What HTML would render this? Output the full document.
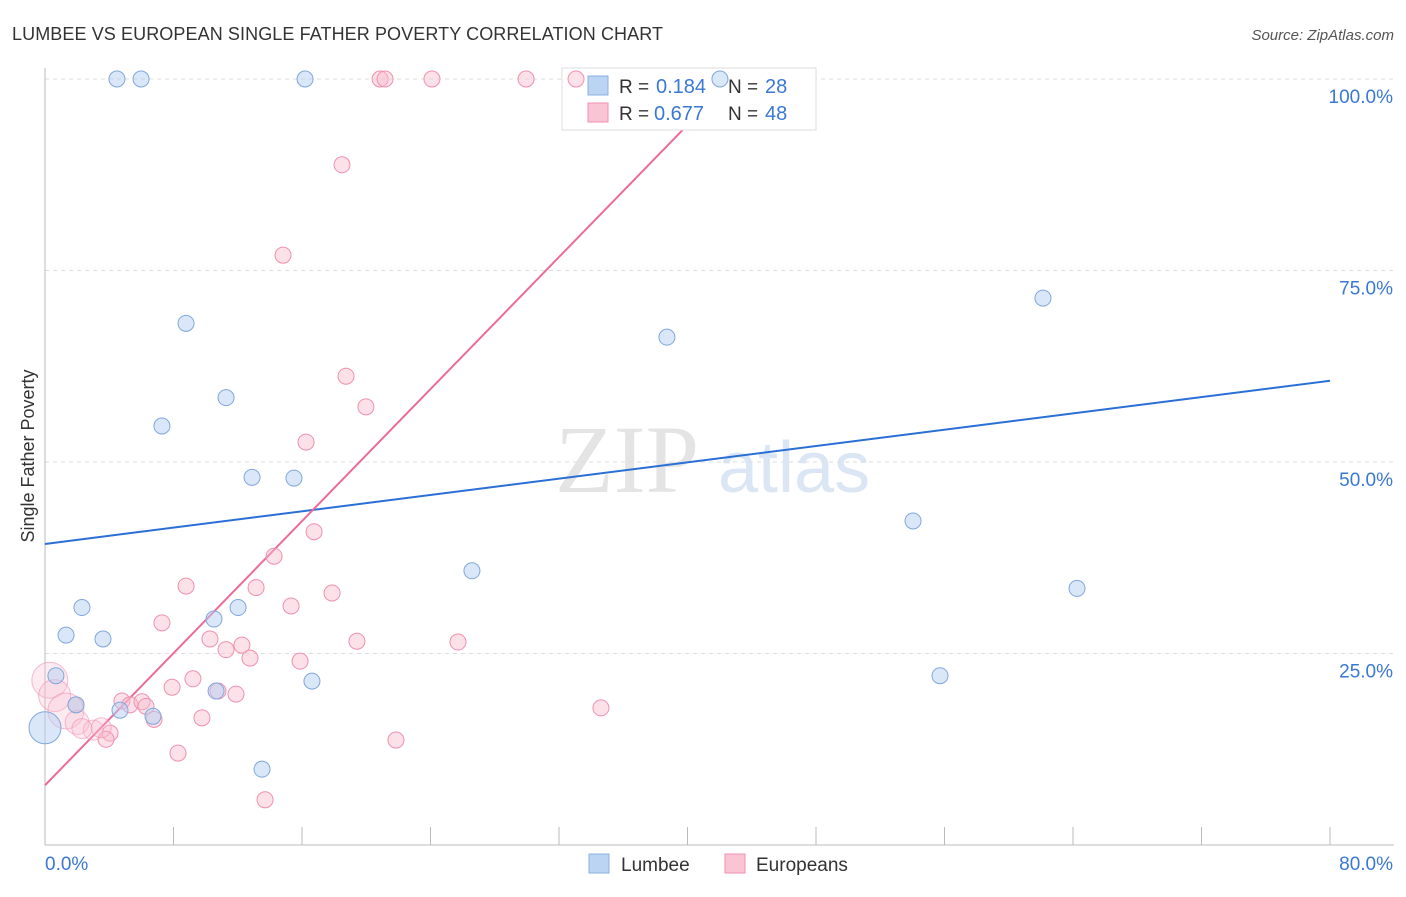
<!DOCTYPE html>
<html><head><meta charset="utf-8"><style>
body{margin:0;background:#fff;font-family:"Liberation Sans",sans-serif;}
</style></head><body>
<svg width="1406" height="892" xmlns="http://www.w3.org/2000/svg" id="chart" font-family="Liberation Sans, sans-serif">
<text x="12" y="40" font-size="18" fill="#333" textLength="651">LUMBEE VS EUROPEAN SINGLE FATHER POVERTY CORRELATION CHART</text>
<text x="1394" y="40" font-size="15" fill="#555" font-style="italic" text-anchor="end">Source: ZipAtlas.com</text>
<g>
<text x="555" y="492" font-size="96" fill="#e4e4e4" font-family="Liberation Serif, serif">ZIP</text>
<text x="718" y="492" font-size="72" fill="#dbe6f5">atlas</text>
</g>
<g id="grid"></g>
<g id="axes"></g>
<text x="34" y="456" font-size="18" fill="#333" transform="rotate(-90 34 456)" text-anchor="middle">Single Father Poverty</text>
<g id="lines"></g>
<g>
<rect x="562" y="68" width="254" height="62" fill="#fff" stroke="#ddd"/>
<rect x="588" y="76" width="20" height="19" fill="#bcd4f4" stroke="#8ab0e0"/>
<rect x="588" y="103" width="20" height="19" fill="#f9c4d4" stroke="#f090b0"/>
<text x="619" y="93" font-size="19" fill="#333">R =</text>
<text x="656" y="93" font-size="20" fill="#3a78d4">0.184</text>
<text x="728" y="93" font-size="19" fill="#333">N =</text>
<text x="765" y="93" font-size="20" fill="#3a78d4">28</text>
<text x="619" y="120" font-size="19" fill="#333">R =</text>
<text x="654" y="120" font-size="20" fill="#3a78d4">0.677</text>
<text x="728" y="120" font-size="19" fill="#333">N =</text>
<text x="765" y="120" font-size="20" fill="#3a78d4">48</text>
</g>
<g id="pts"></g>
<g>
<rect x="589" y="854" width="20" height="19" fill="#bcd4f4" stroke="#8ab0e0"/>
<text x="621" y="871" font-size="19" fill="#333">Lumbee</text>
<rect x="725" y="854" width="20" height="19" fill="#f9c4d4" stroke="#f090b0"/>
<text x="756" y="871" font-size="19" fill="#333">Europeans</text>
</g>
</svg>
<script>
const yTicks=[25,50,75,100];
const yTickLabels=["25.0%","50.0%","75.0%","100.0%"];
const xTickCount=[0,8,16,24,32,40,48,56,64,72,80];
const xEndLabels=["0.0%","80.0%"];
const lumbeeX=[4.48,5.98,16.19,42.02,8.78,11.27,7.28,12.89,15.5,38.72,62.13,54.04,26.58,64.25,2.3,12.02,10.52,1.31,3.61,0.68,16.62,55.72,10.65,1.93,4.67,6.72,13.51,0];
const lumbeeY=[100,100,100,100,68.1,58.4,54.7,48.0,47.9,66.3,71.4,42.3,35.8,33.5,31.0,31.0,29.5,27.4,26.9,22.1,21.4,22.1,20.1,18.3,17.6,16.8,9.9,15.3];
const lumbeeR=[8,8,8,8,8,8,8,8,8,8,8,8,8,8,8,8,8,8,8,8,8,8,8,8,8,8,8,16];
const euroX=[20.86,21.17,24.09,29.95,33.06,18.49,14.82,18.74,19.98,16.25,16.75,14.26,8.78,13.14,17.87,15.32,7.28,10.27,25.71,19.42,12.26,11.27,12.76,15.88,9.21,7.91,10.77,11.89,4.79,5.29,6.04,6.29,1.93,6.79,9.77,4.05,3.8,21.85,34.61,8.28,13.7,0.3,0.6,1.3,2.0,3.0,3.5,2.3];
const euroY=[100,100,100,100,100,88.8,77.0,61.2,57.2,52.6,40.9,37.7,33.8,33.6,32.9,31.2,29.0,26.9,26.5,26.6,26.1,25.5,24.4,24.0,21.7,20.6,20.1,19.7,18.8,18.3,18.7,18.1,18.3,16.4,16.6,14.6,13.8,13.7,17.9,12.0,5.9,21.5,19.5,17.5,16.0,15.0,15.3,15.2];
const euroR=[8,8,8,8,8,8,8,8,8,8,8,8,8,8,8,8,8,8,8,8,8,8,8,8,8,8,8,8,8,8,8,8,8,8,8,8,8,8,8,8,8,18,16,18,12,10,10,10];
const lumbeeTrend=[39.3,60.6];
const euroTrend=[7.8,94.0];
const X=v=>45+v*(1285/80), Y=v=>845-v*7.66;
const NS="http://www.w3.org/2000/svg";
function mk(tag,attrs,parent){const e=document.createElementNS(NS,tag);for(const k in attrs)e.setAttribute(k,attrs[k]);document.getElementById(parent).appendChild(e);return e;}
yTicks.forEach((t,i)=>{
 const g=mk('line',{x1:45,x2:1394,y1:Y(t),y2:Y(t),stroke:'#ddd','stroke-dasharray':'4,4'},'grid');
 
 
 const l=mk('text',{x:1393,y:Y(t)+24,'font-size':19,fill:'#3a78d4','text-anchor':'end'},'axes');
 l.textContent=yTickLabels[i];
 
 
});
const ax=mk('line',{x1:45,x2:45,y1:68,y2:845,stroke:'#bbb'},'axes');


const bx=mk('line',{x1:45,x2:1394,y1:845,y2:845,stroke:'#bbb'},'axes');


xTickCount.forEach(t=>{
 const tk=mk('line',{x1:X(t),x2:X(t),y1:827,y2:845,stroke:'#bbb'},'axes');
 
 
});
const xl0=mk('text',{x:45,y:870,'font-size':19,fill:'#3a78d4'},'axes');xl0.textContent=xEndLabels[0];


const xl1=mk('text',{x:1393,y:870,'font-size':19,fill:'#3a78d4','text-anchor':'end'},'axes');xl1.textContent=xEndLabels[1];


euroX.forEach((v,i)=>{
 const c=mk('circle',{cx:X(v),cy:Y(euroY[i]),r:euroR[i],fill:'#f9bccf','fill-opacity':euroR[i]>8?0.3:0.45,stroke:'#f090b0','stroke-width':1,'stroke-opacity':euroR[i]>8?0.6:1},'pts');
 
 
});
lumbeeX.forEach((v,i)=>{
 const c=mk('circle',{cx:X(v),cy:Y(lumbeeY[i]),r:lumbeeR[i],fill:'#b4cff2','fill-opacity':0.5,stroke:'#80a8dc','stroke-width':1},'pts');
 
 
});
const l1=mk('line',{x1:X(0),y1:Y(lumbeeTrend[0]),x2:X(80),y2:Y(lumbeeTrend[1]),stroke:'#2a6fd6','stroke-width':2},'lines');


const l2=mk('line',{x1:X(0),y1:Y(euroTrend[0]),x2:X(40),y2:Y(euroTrend[1]),stroke:'#ec6b98','stroke-width':2},'lines');


</script>
</body></html>
